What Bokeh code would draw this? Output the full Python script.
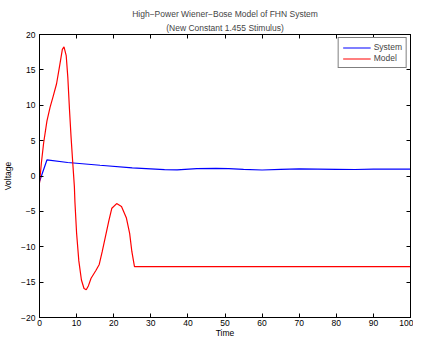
from bokeh.plotting import figure
from bokeh.models import Range1d, LinearAxis, Title, FixedTicker, CustomJSTickFormatter, Legend, LegendItem
from bokeh.embed import file_html
from bokeh.resources import INLINE

# ---- data ----
sys_t = [0, 0.7, 2.0, 7.6, 16.3, 25, 33.7, 37.1, 42.4, 47.6, 51, 55, 60, 65, 70, 75, 80, 85, 90, 95, 100]
sys_v = [-0.8, 0.29, 2.27, 1.91, 1.52, 1.16, 0.9, 0.86, 1.03, 1.08, 1.05, 0.95, 0.85, 0.93, 1.0, 0.98, 0.95, 0.92, 0.96, 0.97, 0.97]

mod_t = [0, 0.5, 1.12, 2.0, 2.86, 3.7, 4.6, 5.47, 6.16, 6.6, 7.2, 7.64, 8.07, 8.5, 8.94, 9.4,
         9.55, 10.0, 10.6, 11.3, 12.0, 12.6, 13.2, 13.9, 15.2, 16.1, 16.9, 17.8, 18.7, 19.5,
         20.8, 22.1, 23.4, 24.3, 24.9, 25.6, 100]
mod_v = [-1.0, 1.8, 4.7, 7.76, 9.74, 11.3, 13.04, 15.7, 17.9, 18.24, 17.0, 13.9, 9.5, 5.57, 2.05, -1.5,
         -3.67, -8.1, -12.0, -14.7, -15.9, -16.08, -15.5, -14.45, -13.36, -12.5, -10.7, -8.5, -6.3, -4.55,
         -3.9, -4.3, -5.9, -8.1, -10.7, -12.8, -12.8]

x_ticks = [0, 10, 20, 30, 40, 50, 60, 70, 80, 90, 100]
y_ticks = [-20, -15, -10, -5, 0, 5, 10, 15, 20]

title1 = "High\u2212Power Wiener\u2212Bose Model of FHN System"
title2 = "(New Constant 1.455 Stimulus)"

FONT = "Liberation Sans"
FS = "8.5px"

p = figure(width=413, height=340, output_backend="svg", toolbar_location=None,
           x_range=Range1d(0, 100), y_range=Range1d(-20, 20),
           min_border_left=36, min_border_right=3, min_border_top=34, min_border_bottom=2)
p.title = None
p.xgrid.visible = False
p.ygrid.visible = False
p.outline_line_color = "black"
p.outline_line_width = 1
p.background_fill_color = "white"
p.border_fill_color = "white"

fmt = CustomJSTickFormatter(code="return tick < 0 ? '\\u2212' + Math.abs(tick) : '' + tick;")
blank = CustomJSTickFormatter(code="return '';")

def style_axis(ax, ticks, labels=True):
    ax.ticker = FixedTicker(ticks=ticks)
    ax.minor_tick_line_color = None
    ax.major_tick_in = 4
    ax.major_tick_out = 0
    ax.axis_line_color = "black"
    ax.major_tick_line_color = "black"
    ax.major_label_text_font = FONT
    ax.major_label_text_color = "black"
    ax.axis_label_text_font = FONT
    ax.axis_label_text_font_style = "normal"
    ax.axis_label_text_color = "black"
    if labels:
        ax.formatter = fmt
        ax.major_label_text_font_size = FS
        ax.major_label_standoff = 3
    else:
        ax.formatter = blank
        ax.major_label_text_font_size = "1px"
        ax.major_label_standoff = 0

style_axis(p.xaxis[0], x_ticks)
style_axis(p.yaxis[0], y_ticks)
p.xaxis[0].axis_label = "Time"
p.xaxis[0].axis_label_text_font_size = FS
p.xaxis[0].axis_label_standoff = -1
p.xaxis[0].major_label_standoff = 2
p.yaxis[0].axis_label = "Voltage"
p.yaxis[0].axis_label_text_font_size = FS
p.yaxis[0].axis_label_standoff = 5
p.yaxis[0].major_label_standoff = 4

top_ax = LinearAxis()
style_axis(top_ax, x_ticks, labels=False)
p.add_layout(top_ax, "above")
right_ax = LinearAxis()
style_axis(right_ax, y_ticks, labels=False)
p.add_layout(right_ax, "right")

p.add_layout(Title(text=title2, align="center", text_font=FONT, text_font_size=FS,
                   text_font_style="normal", standoff=4, offset=0), "above")
p.add_layout(Title(text=title1, align="center", text_font=FONT, text_font_size=FS,
                   text_font_style="normal", standoff=0, offset=0), "above")

r_sys = p.line(sys_t, sys_v, line_color="#0000ff", line_width=1.2)
r_mod = p.line(mod_t, mod_v, line_color="#ff0000", line_width=1.2)

legend = Legend(items=[LegendItem(label="System", renderers=[r_sys]),
                       LegendItem(label="Model", renderers=[r_mod])],
                location="top_right")
legend.label_text_font = FONT
legend.label_text_font_size = FS
legend.label_height = 9
legend.glyph_height = 9
legend.glyph_width = 28
legend.spacing = 1
legend.padding = 4
legend.margin = 3
legend.label_standoff = 3
legend.border_line_color = "black"
legend.border_line_width = 1
legend.background_fill_alpha = 1
p.add_layout(legend, "center")

open("out.html", "w").write(file_html(p, INLINE))
